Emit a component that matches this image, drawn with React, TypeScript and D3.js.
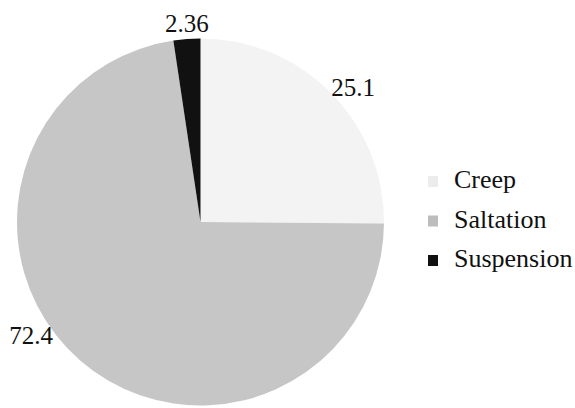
import React from "react";
import * as d3 from "d3";

// Share of sand transport by mode (%)
const modes = ["Creep", "Saltation", "Suspension"];
const shares = [25.1, 72.4, 2.36];
const shareLabels = ["25.1", "72.4", "2.36"];
const fills = ["#f3f3f3", "#c6c6c6", "#111111"];
const legendFills = ["#ececec", "#bdbdbd", "#111111"];

const W = 575;
const H = 408;
const cx = 200.5;
const cy = 222;
const R = 183.5;

// label anchor positions, in polar terms (angle in degrees clockwise from top, radius factor)
const labelPolar: [number, number][] = [
  [48.5, 1.11],
  [236.3, 1.11],
  [-3.9, 1.087],
];

const font = '"Liberation Serif", "Times New Roman", serif';

export default function App() {
  const pie = d3
    .pie<number>()
    .sort(null)
    .value((d) => d)
    .startAngle(0)
    .endAngle(2 * Math.PI);
  const arcs = pie(shares);
  const arcGen = d3.arc<d3.PieArcDatum<number>>().innerRadius(0).outerRadius(R);

  const legendY = d3.scalePoint<string>().domain(modes).range([188, 267]);

  return (
    <svg
      width={W}
      height={H}
      style={{ position: "absolute", left: 0, top: 0, background: "#fff" }}
    >
      <g transform={`translate(${cx},${cy})`}>
        {arcs.map((a, i) => (
          <path key={modes[i]} d={arcGen(a) ?? ""} fill={fills[i]} />
        ))}
        {shareLabels.map((t, i) => {
          const [deg, f] = labelPolar[i];
          const ang = (deg * Math.PI) / 180;
          const x = Math.sin(ang) * R * f;
          const y = -Math.cos(ang) * R * f;
          return (
            <text
              key={t}
              x={x}
              y={y + 8.5}
              textAnchor="middle"
              style={{ fontFamily: font, fontSize: 25 }}
              fill="#111"
            >
              {t}
            </text>
          );
        })}
      </g>
      {modes.map((m, i) => {
        const y = legendY(m) ?? 0;
        return (
          <g key={m}>
            <rect x={428} y={y - 12} width={10} height={11} fill={legendFills[i]} />
            <text x={454} y={y} style={{ fontFamily: font, fontSize: 26 }} fill="#111">
              {m}
            </text>
          </g>
        );
      })}
    </svg>
  );
}
